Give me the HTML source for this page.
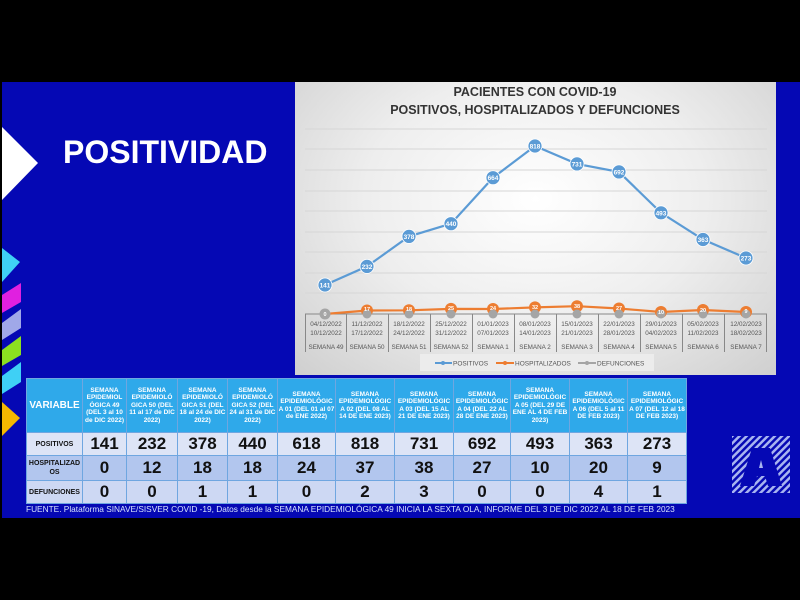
<!DOCTYPE html>
<html><head><meta charset="utf-8">
<style>
body{margin:0;width:800px;height:600px;background:#000;position:relative;overflow:hidden;font-family:"Liberation Sans",sans-serif}
.slide{position:absolute;left:2px;top:82px;width:798px;height:436px;background:#0508b4}
.title{position:absolute;left:63px;top:134px;color:#fff;font-weight:bold;font-size:32px;letter-spacing:0px}
.panel{position:absolute;left:295px;top:82px;width:481px;height:293px;background:radial-gradient(ellipse at 50% 40%,#ffffff 0%,#eeeeee 50%,#cfcfcf 100%)}
table{position:absolute;left:26px;top:378px;width:660px;border-collapse:collapse;font-weight:bold;table-layout:fixed}
td{border:1px solid #6fa6e0;text-align:center;padding:0;color:#111;overflow:hidden}
tr.h td{background:#2fa9ea;color:#fff;font-size:6.5px;line-height:7.5px;height:53px}
tr.p td{background:#dde4f6;font-size:17px;height:22px}
tr.o td{background:#b2c6ee;font-size:17px;height:24px}
tr.d td{background:#cdd8f3;font-size:17px;height:22px}
tr td.v{font-size:7px;line-height:9px}
tr.h td.v{font-size:10px}
.foot{position:absolute;left:26px;top:504px;color:#d8e4ff;font-size:8.3px;white-space:nowrap}
</style></head><body>
<div class="slide"></div>
<svg style="position:absolute;left:0;top:0" width="800" height="600">
<polygon points="2,127 38,163 2,200" fill="#fff"/>
<polygon points="2,248 20,262 2,282" fill="#3fd0f5"/>
<polygon points="2,295 21,283 21,302 2,313" fill="#e020e0"/>
<polygon points="2,323 21,309 21,328 2,340" fill="#a0a8e8"/>
<polygon points="2,350 21,336 21,355 2,366" fill="#8ce020"/>
<polygon points="2,376 21,362 21,382 2,394" fill="#3fd0f5"/>
<polygon points="2,402 20,418 2,436" fill="#f5b800"/>
</svg>
<div class="title">POSITIVIDAD</div>
<div class="panel"></div>
<svg style="position:absolute;left:0;top:0" width="800" height="600" font-family="Liberation Sans, sans-serif">
<text x="535" y="96" text-anchor="middle" font-size="12.5" font-weight="bold" fill="#333">PACIENTES CON COVID-19</text>
<text x="535" y="114" text-anchor="middle" font-size="12.5" font-weight="bold" fill="#333">POSITIVOS, HOSPITALIZADOS Y DEFUNCIONES</text>
<g stroke="#d6d6d6" stroke-width="1">
<line x1="305" x2="767" y1="129" y2="129"/><line x1="305" x2="767" y1="149" y2="149"/><line x1="305" x2="767" y1="170" y2="170"/><line x1="305" x2="767" y1="191" y2="191"/><line x1="305" x2="767" y1="211" y2="211"/><line x1="305" x2="767" y1="232" y2="232"/><line x1="305" x2="767" y1="252" y2="252"/><line x1="305" x2="767" y1="273" y2="273"/><line x1="305" x2="767" y1="293" y2="293"/>
</g>
<g stroke="#888" stroke-width="1">
<line x1="305" x2="767" y1="314" y2="314"/>
<line x1="305.5" x2="305.5" y1="314" y2="352"/><line x1="346.5" x2="346.5" y1="314" y2="352"/><line x1="388.5" x2="388.5" y1="314" y2="352"/><line x1="430.5" x2="430.5" y1="314" y2="352"/><line x1="472.5" x2="472.5" y1="314" y2="352"/><line x1="514.5" x2="514.5" y1="314" y2="352"/><line x1="556.5" x2="556.5" y1="314" y2="352"/><line x1="598.5" x2="598.5" y1="314" y2="352"/><line x1="640.5" x2="640.5" y1="314" y2="352"/><line x1="682.5" x2="682.5" y1="314" y2="352"/><line x1="724.5" x2="724.5" y1="314" y2="352"/><line x1="766.5" x2="766.5" y1="314" y2="352"/>
</g>
<g font-size="6.3" fill="#555" text-anchor="middle">
<text x="326" y="326">04/12/2022</text><text x="326" y="335">10/12/2022</text><text x="326" y="349">SEMANA 49</text>
<text x="367" y="326">11/12/2022</text><text x="367" y="335">17/12/2022</text><text x="367" y="349">SEMANA 50</text>
<text x="409" y="326">18/12/2022</text><text x="409" y="335">24/12/2022</text><text x="409" y="349">SEMANA 51</text>
<text x="451" y="326">25/12/2022</text><text x="451" y="335">31/12/2022</text><text x="451" y="349">SEMANA 52</text>
<text x="493" y="326">01/01/2023</text><text x="493" y="335">07/01/2023</text><text x="493" y="349">SEMANA 1</text>
<text x="535" y="326">08/01/2023</text><text x="535" y="335">14/01/2023</text><text x="535" y="349">SEMANA 2</text>
<text x="577" y="326">15/01/2023</text><text x="577" y="335">21/01/2023</text><text x="577" y="349">SEMANA 3</text>
<text x="619" y="326">22/01/2023</text><text x="619" y="335">28/01/2023</text><text x="619" y="349">SEMANA 4</text>
<text x="661" y="326">29/01/2023</text><text x="661" y="335">04/02/2023</text><text x="661" y="349">SEMANA 5</text>
<text x="703" y="326">05/02/2023</text><text x="703" y="335">11/02/2023</text><text x="703" y="349">SEMANA 6</text>
<text x="746" y="326">12/02/2023</text><text x="746" y="335">18/02/2023</text><text x="746" y="349">SEMANA 7</text>
</g>
<polyline fill="none" stroke="#5b9bd5" stroke-width="2.2" points="325,285 367,266.4 409,236.4 451,223.7 493,177.7 535,146 577,163.9 619,171.9 661,212.8 703,239.5 746,258"/>
<polyline fill="none" stroke="#ed7d31" stroke-width="2.2" points="325,314 367,310.5 409,310.3 451,308.9 493,309 535,307.4 577,306.2 619,308.5 661,312 703,310 746,312"/>
<g fill="#5b9bd5" stroke="#fff" stroke-width="0.8">
<circle cx="325" cy="285" r="7"/><circle cx="367" cy="266.4" r="7"/><circle cx="409" cy="236.4" r="7"/><circle cx="451" cy="223.7" r="7"/><circle cx="493" cy="177.7" r="7"/><circle cx="535" cy="146" r="7"/><circle cx="577" cy="163.9" r="7"/><circle cx="619" cy="171.9" r="7"/><circle cx="661" cy="212.8" r="7"/><circle cx="703" cy="239.5" r="7"/><circle cx="746" cy="258" r="7"/>
</g>
<g fill="#fff" font-size="6.5" font-weight="bold" text-anchor="middle">
<text x="325" y="287.5">141</text><text x="367" y="269">232</text><text x="409" y="239">378</text><text x="451" y="226">440</text><text x="493" y="180">664</text><text x="535" y="148.5">818</text><text x="577" y="166.5">731</text><text x="619" y="174.5">692</text><text x="661" y="215.3">493</text><text x="703" y="242">363</text><text x="746" y="260.5">273</text>
</g>
<g fill="#ed7d31">
<circle cx="367" cy="310.5" r="6"/><circle cx="409" cy="310.3" r="6"/><circle cx="451" cy="308.9" r="6"/><circle cx="493" cy="309" r="6"/><circle cx="535" cy="307.4" r="6"/><circle cx="577" cy="306.2" r="6"/><circle cx="619" cy="308.5" r="6"/><circle cx="661" cy="312" r="6"/><circle cx="703" cy="310" r="6"/><circle cx="746" cy="312" r="6"/>
</g>
<g fill="#a5a5a5">
<circle cx="325" cy="314" r="5.5"/><circle cx="367" cy="314" r="4.5"/><circle cx="409" cy="314" r="4.5"/><circle cx="451" cy="314" r="4.5"/><circle cx="493" cy="314" r="4.5"/><circle cx="535" cy="314" r="4.5"/><circle cx="577" cy="314" r="4.5"/><circle cx="619" cy="314" r="4.5"/><circle cx="661" cy="314" r="4.5"/><circle cx="703" cy="314" r="4.5"/><circle cx="746" cy="314" r="4.5"/>
</g>
<g fill="#fff" font-size="5.5" font-weight="bold" text-anchor="middle">
<text x="325" y="316">0</text><text x="367" y="311">17</text><text x="409" y="311">18</text><text x="451" y="310">25</text><text x="493" y="310">24</text><text x="535" y="309">32</text><text x="577" y="308">38</text><text x="619" y="310">27</text><text x="661" y="314">10</text><text x="703" y="312">20</text><text x="746" y="313">9</text>
</g>
<rect x="420" y="354" width="234" height="17" fill="#ececec"/>
<g font-size="6.5" fill="#555">
<line x1="435" x2="452" y1="363" y2="363" stroke="#5b9bd5" stroke-width="2"/><circle cx="443" cy="363" r="2" fill="#5b9bd5"/><text x="453" y="365.5">POSITIVOS</text>
<line x1="496" x2="514" y1="363" y2="363" stroke="#ed7d31" stroke-width="2"/><circle cx="505" cy="363" r="2" fill="#ed7d31"/><text x="515" y="365.5">HOSPITALIZADOS</text>
<line x1="578" x2="596" y1="363" y2="363" stroke="#a5a5a5" stroke-width="2"/><circle cx="587" cy="363" r="2" fill="#a5a5a5"/><text x="597" y="365.5">DEFUNCIONES</text>
</g>
<defs><pattern id="st" width="5" height="5" patternUnits="userSpaceOnUse" patternTransform="rotate(45)"><rect width="2.5" height="5" fill="#a8b4f0"/></pattern></defs>
<rect x="732" y="436" width="58" height="57" fill="url(#st)"/>
<polygon points="752,448 770,448 782,486 768,486 765,476 757,476 754,486 740,486" fill="#0508b4"/>
<polygon points="759,468 763,468 761,460" fill="#a8b4f0"/>
</svg>
<table>
<colgroup><col style="width:56px"><col style="width:44px"><col style="width:51px"><col style="width:50px"><col style="width:50px"><col style="width:58px"><col style="width:59px"><col style="width:59px"><col style="width:57px"><col style="width:59px"><col style="width:58px"><col style="width:59px"></colgroup>
<tr class="h"><td class="v">VARIABLE</td><td>SEMANA EPIDEMIOL ÓGICA 49 (DEL 3 al 10 de DIC 2022)</td><td>SEMANA EPIDEMIOLÓ GICA 50 (DEL 11 al 17 de DIC 2022)</td><td>SEMANA EPIDEMIOLÓ GICA 51 (DEL 18 al 24 de DIC 2022)</td><td>SEMANA EPIDEMIOLÓ GICA 52 (DEL 24 al 31 de DIC 2022)</td><td>SEMANA EPIDEMIOLÓGIC A 01 (DEL 01 al 07 de ENE 2022)</td><td>SEMANA EPIDEMIOLÓGIC A 02 (DEL 08 AL 14 DE ENE 2023)</td><td>SEMANA EPIDEMIOLÓGIC A 03 (DEL 15 AL 21 DE ENE 2023)</td><td>SEMANA EPIDEMIOLÓGIC A 04 (DEL 22 AL 28 DE ENE 2023)</td><td>SEMANA EPIDEMIOLÓGIC A 05 (DEL 29 DE ENE AL 4 DE FEB 2023)</td><td>SEMANA EPIDEMIOLÓGIC A 06 (DEL 5 al 11 DE FEB 2023)</td><td>SEMANA EPIDEMIOLÓGIC A 07 (DEL 12 al 18 DE FEB 2023)</td></tr>
<tr class="p"><td class="v">POSITIVOS</td><td>141</td><td>232</td><td>378</td><td>440</td><td>618</td><td>818</td><td>731</td><td>692</td><td>493</td><td>363</td><td>273</td></tr>
<tr class="o"><td class="v">HOSPITALIZAD OS</td><td>0</td><td>12</td><td>18</td><td>18</td><td>24</td><td>37</td><td>38</td><td>27</td><td>10</td><td>20</td><td>9</td></tr>
<tr class="d"><td class="v">DEFUNCIONES</td><td>0</td><td>0</td><td>1</td><td>1</td><td>0</td><td>2</td><td>3</td><td>0</td><td>0</td><td>4</td><td>1</td></tr>
</table>
<div class="foot">FUENTE. Plataforma SINAVE/SISVER COVID -19, Datos desde la SEMANA EPIDEMIOLÓGICA 49 INICIA LA SEXTA OLA, INFORME DEL 3 DE DIC 2022 AL 18 DE FEB 2023</div>
</body></html>
